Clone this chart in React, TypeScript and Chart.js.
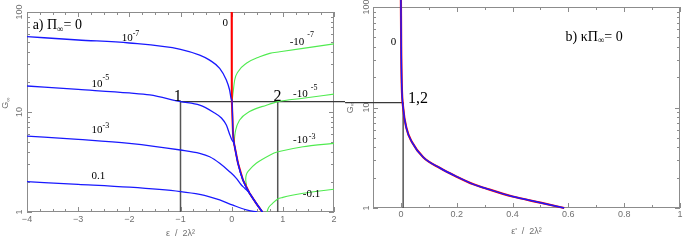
import React, { useEffect, useRef } from 'react';
import { Chart, registerables } from 'chart.js';
Chart.register(...registerables);

// ---------- ticks ----------
const leftXTicks = [-4, -3, -2, -1, 0, 1, 2];
const rightXTicks = [0, 0.2, 0.4, 0.6, 0.8, 1];
const yTicks = [1, 10, 100];

// ---------- left panel (a) ----------
const blue7X = [-4, -3, -2, -1, -0.625, -0.43, -0.234, -0.104, -0.04, -0.006];
const blue7Y = [56.7, 52.5, 49.0, 42.4, 37.0, 33.0, 27.3, 20.9, 16.6, 13.4];
const blue5X = [-4, -3, -2, -1.6, -1, -0.625, -0.365, -0.2, -0.104, -0.04, -0.006, 0.02];
const blue5Y = [18.2, 16.8, 15.5, 14.8, 12.7, 11.7, 10.0, 8.7, 7.4, 6.0, 5.4, 5.1];
const blue3X = [-4, -3, -2, -1, -0.625, -0.43, -0.234, -0.04, 0.092, 0.19, 0.26];
const blue3Y = [5.75, 5.33, 4.86, 4.17, 3.86, 3.57, 3.07, 2.53, 2.17, 1.86, 1.72];
const blue01X = [-4, -3, -2, -1, -0.625, -0.43, -0.234, 0.026, 0.287, 0.5];
const blue01Y = [2.01, 1.89, 1.77, 1.6, 1.5, 1.42, 1.32, 1.17, 1.05, 1.0];
const envX = [0.006, 0.026, 0.045, 0.059, 0.124, 0.22, 0.35, 0.48, 0.6];
const envY = [13.0, 6.1, 4.9, 4.5, 3.07, 2.09, 1.54, 1.22, 1.0];
const redX = [0, 0];
const redY = [100, 13.0];
const g7X = [0.008, 0.026, 0.059, 0.124, 0.287, 0.548, 0.743, 0.94, 1.394, 2];
const g7Y = [12.8, 15.4, 20.9, 25.3, 30.7, 35.7, 38.6, 40.0, 43.3, 48.0];
const g5X = [0.05, 0.059, 0.078, 0.156, 0.35, 0.68, 0.905, 1.394, 2];
const g5Y = [4.9, 5.7, 6.6, 8.3, 10.1, 11.7, 12.7, 13.7, 15.1];
const g3X = [0.29, 0.275, 0.285, 0.32, 0.48, 0.743, 0.905, 1.394, 2];
const g3Y = [1.85, 2.1, 2.35, 2.55, 3.07, 3.7, 4.0, 4.5, 4.86];
const g01X = [0.69, 0.72, 0.8, 0.9, 1.0, 1.4, 2];
const g01Y = [1.0, 1.1, 1.22, 1.35, 1.4, 1.54, 1.69];
const leftHX = [-1, 2.3];
const leftHY = [12.7, 12.7];
const leftV1X = [-1, -1];
const leftV2X = [0.9, 0.9];
const leftVY = [1, 12.7];

// ---------- right panel (b) ----------
const rX = [0, 0.001, 0.003, 0.008, 0.02, 0.04, 0.08, 0.14, 0.2, 0.26, 0.3, 0.4, 0.5, 0.585];
const rY = [120, 40, 17, 10, 6.2, 4.5, 3.2, 2.5, 2.05, 1.72, 1.58, 1.3, 1.13, 1.0];
const rightHX = [-0.2, 0.008];
const rightHY = [11.2, 11.2];
const rightVX = [0.008, 0.008];
const rightVY = [1, 11.2];

// ---------- styles ----------
const SERIF = '"Liberation Serif", "DejaVu Serif", serif';
const SANS = '"Liberation Sans", "DejaVu Sans", sans-serif';
const AXIS_COLOR = '#707070';
const FRAME_COLOR = '#8c8c8c';
const BLUE = 'rgb(25,25,255)';
const GREEN = 'rgb(80,235,80)';
const RED = 'rgb(255,0,0)';
const DARK = '#383838';
const GREYLINE = '#555555';
const H = 243;

const pts = (xs: number[], ys: number[]) => xs.map((x, i) => ({ x, y: ys[i] }));
const joinEnv = (xs: number[], ys: number[], from: number) =>
  pts(xs, ys).concat(pts(envX.slice(from), envY.slice(from)));

const ds = (data: any[], color: string, width: number, extra: any = {}) => ({
  data, borderColor: color, borderWidth: width, showLine: true, pointRadius: 0,
  pointHoverRadius: 0, fill: false, tension: 0.2, ...extra,
});
const MONO = { cubicInterpolationMode: 'monotone' };

type Part = { t: string; s: number; dy?: number; gap?: number };
type Label = { x: number; y: number; parts: Part[] };

const sup = (base: string, exp: string, dy: number, gap = 0): Part[] => [
  { t: base, s: 11, gap }, { t: exp, s: 8, dy },
];

const leftLabels: Label[] = [
  { x: -3.89, y: 67, parts: [{ t: 'a) Π', s: 14 }, { t: '∞', s: 9, dy: 2.5 }, { t: '= 0', s: 14 }] },
  { x: -2.15, y: 51.3, parts: sup('10', '-7', -5) },
  { x: -2.74, y: 17.7, parts: sup('10', '-5', -7) },
  { x: -2.74, y: 6.12, parts: sup('10', '-3', -5) },
  { x: -2.74, y: 2.14, parts: [{ t: '0.1', s: 11 }] },
  { x: -0.18, y: 72.4, parts: [{ t: '0', s: 11 }] },
  { x: 1.134, y: 46.8, parts: sup('-10', '-7', -8, 3) },
  { x: 1.2, y: 14.2, parts: sup('-10', '-5', -7, 3) },
  { x: 1.2, y: 4.86, parts: sup('-10', '-3', -4, 1) },
  { x: 1.39, y: 1.42, parts: [{ t: '-0.1', s: 11 }] },
  { x: -1.13, y: 13.0, parts: [{ t: '1', s: 16 }] },
  { x: 0.82, y: 13.0, parts: [{ t: '2', s: 16 }] },
];
const rightLabels: Label[] = [
  { x: -0.036, y: 41.4, parts: [{ t: '0', s: 11 }] },
  { x: 0.025, y: 11.2, parts: [{ t: '1,2', s: 16 }] },
  { x: 0.59, y: 46.4, parts: [{ t: 'b) κΠ', s: 14 }, { t: '∞', s: 9, dy: 2.5 }, { t: '= 0', s: 14 }] },
];

function drawParts(ctx: CanvasRenderingContext2D, x: number, y: number, parts: Part[], family: string) {
  let cx = x;
  for (const p of parts) {
    ctx.font = `${p.s}px ${family}`;
    ctx.fillText(p.t, cx, y + (p.dy || 0));
    cx += ctx.measureText(p.t).width + (p.gap || 0);
  }
}
function partsWidth(ctx: CanvasRenderingContext2D, parts: Part[], family: string) {
  let w = 0;
  for (const p of parts) { ctx.font = `${p.s}px ${family}`; w += ctx.measureText(p.t).width + (p.gap || 0); }
  return w;
}

const decor = {
  id: 'decor',
  beforeDatasetsDraw(chart: any, _a: any, o: any) {
    const { ctx, chartArea: a, scales } = chart;
    const xs = scales.x, ys = scales.y;
    ctx.save();
    ctx.strokeStyle = FRAME_COLOR;
    ctx.lineWidth = 1;
    ctx.strokeRect(a.left + 0.5, a.top + 0.5, a.right - a.left - 1, a.bottom - a.top - 1);
    const seg = (x1: number, y1: number, x2: number, y2: number) => {
      ctx.beginPath(); ctx.moveTo(x1, y1); ctx.lineTo(x2, y2); ctx.stroke();
    };
    const xt = (v: number, len: number) => {
      const p = Math.round(xs.getPixelForValue(v)) + 0.5;
      seg(p, a.bottom, p, a.bottom - len); seg(p, a.top, p, a.top + len);
    };
    const yt = (v: number, len: number) => {
      const p = Math.round(ys.getPixelForValue(v)) + 0.5;
      seg(a.left, p, a.left + len, p); seg(a.right, p, a.right - len, p);
    };
    o.xTicks.forEach((v: number) => xt(v, 5));
    const xmin = xs.min, xmax = xs.max;
    for (let k = 0; ; k++) {
      const v = xmin + k * o.xMinorStep;
      if (v > xmax + 1e-9) break;
      xt(v, 3);
    }
    yTicks.forEach((v) => yt(v, 5));
    for (const d of [1, 10]) for (let m = 2; m <= 9; m++) yt(d * m, 3);

    // rotated y tick labels
    ctx.fillStyle = AXIS_COLOR;
    ctx.font = `9px ${SANS}`;
    ctx.textAlign = 'center';
    ctx.textBaseline = 'middle';
    for (const v of yTicks) {
      ctx.save();
      ctx.translate(a.left - o.yLabelDx, ys.getPixelForValue(v));
      ctx.rotate(-Math.PI / 2);
      ctx.fillText(String(v), 0, 0);
      ctx.restore();
    }
    // y title
    const tparts: Part[] = [{ t: 'G', s: 9 }, { t: '∞', s: 6, dy: 2 }];
    ctx.save();
    ctx.translate(o.titleX, ys.getPixelForValue(o.titleY));
    ctx.rotate(-Math.PI / 2);
    ctx.textAlign = 'left';
    ctx.textBaseline = 'middle';
    const w = partsWidth(ctx, tparts, SANS);
    drawParts(ctx, -w / 2, 0, tparts, SANS);
    ctx.restore();
    ctx.restore();
  },
  afterDatasetsDraw(chart: any, _a: any, o: any) {
    const { ctx, scales } = chart;
    ctx.save();
    ctx.fillStyle = '#000';
    ctx.textAlign = 'left';
    ctx.textBaseline = 'alphabetic';
    for (const l of o.labels as Label[]) {
      drawParts(ctx, scales.x.getPixelForValue(l.x), scales.y.getPixelForValue(l.y), l.parts, SERIF);
    }
    ctx.restore();
  },
};

function makeConfig(p: {
  datasets: any[]; xmin: number; xmax: number; xTicks: number[]; fmt: (v: number) => string;
  padRight: number; padTop: number; yWidth: number; xHeight: number; tickPad: number;
  title: string; titlePadBottom: number; labels: Label[]; xMinorStep: number;
  yLabelDx: number; titleX: number; titleY: number;
}): any {
  return {
    type: 'scatter',
    data: { datasets: p.datasets },
    plugins: [decor],
    options: {
      responsive: false,
      animation: false,
      events: [],
      layout: { autoPadding: false, padding: { left: 0, right: p.padRight, top: p.padTop, bottom: 0 } },
      plugins: {
        legend: { display: false },
        tooltip: { enabled: false },
        decor: { xTicks: p.xTicks, xMinorStep: p.xMinorStep, labels: p.labels, yLabelDx: p.yLabelDx, titleX: p.titleX, titleY: p.titleY },
      },
      scales: {
        x: {
          type: 'linear', min: p.xmin, max: p.xmax,
          grid: { display: false, drawTicks: false }, border: { display: false },
          afterBuildTicks: (s: any) => { s.ticks = p.xTicks.map((v) => ({ value: v })); },
          afterFit: (s: any) => { s.height = p.xHeight; },
          ticks: { callback: (v: any) => p.fmt(Number(v)), color: AXIS_COLOR, font: { family: SANS, size: 9 }, padding: p.tickPad, maxRotation: 0, autoSkip: false },
          title: { display: true, text: p.title, color: AXIS_COLOR, font: { family: SANS, size: 9 }, padding: { top: 0, bottom: p.titlePadBottom } },
        },
        y: {
          type: 'logarithmic', min: 1, max: 100,
          grid: { display: false, drawTicks: false }, border: { display: false },
          ticks: { display: false },
          afterFit: (s: any) => { s.width = p.yWidth; },
        },
      },
    },
  };
}

const leftConfig = () => makeConfig({
  datasets: [
    ds(joinEnv(blue7X, blue7Y, 0), BLUE, 1.3, MONO),
    ds(joinEnv(blue5X, blue5Y, 2), BLUE, 1.3, MONO),
    ds(joinEnv(blue3X, blue3Y, 6), BLUE, 1.3, MONO),
    ds(pts(blue01X, blue01Y), BLUE, 1.3, MONO),
    ds(pts(redX, redY).concat(pts(envX, envY)), RED, 2, { tension: 0 }),
    ds(pts(g7X, g7Y), GREEN, 1.1, MONO),
    ds(pts(g5X, g5Y), GREEN, 1.1, MONO),
    ds(pts(g3X, g3Y), GREEN, 1.1),
    ds(pts(g01X, g01Y), GREEN, 1.1, MONO),
    ds(pts(leftHX, leftHY), DARK, 1.2, { clip: false, tension: 0 }),
    ds(pts(leftV1X, leftVY), GREYLINE, 1.5, { tension: 0 }),
    ds(pts(leftV2X, leftVY), GREYLINE, 1.5, { tension: 0 }),
  ],
  xmin: -4, xmax: 2, xTicks: leftXTicks,
  fmt: (v) => (v < 0 ? '−' + Math.abs(v) : String(v)),
  padRight: 11, padTop: 12, yWidth: 27, xHeight: 31, tickPad: 2,
  title: 'ε  /  2λ²', titlePadBottom: 4, labels: leftLabels, xMinorStep: 0.25,
  yLabelDx: 7, titleX: 6, titleY: 12.3,
});

const rightConfig = () => makeConfig({
  datasets: [
    ds(pts(rX, rY), BLUE, 1.5, { clip: false, ...MONO }),
    ds(pts(rX, rY), RED, 2.2, { clip: false, ...MONO }),
    ds(pts(rightHX, rightHY), DARK, 1.2, { clip: false, tension: 0 }),
    ds(pts(rightVX, rightVY), GREYLINE, 1.5, { tension: 0 }),
  ],
  xmin: -0.1, xmax: 1, xTicks: rightXTicks,
  fmt: (v) => String(Math.round(v * 10) / 10),
  padRight: 4, padTop: 7, yWidth: 28, xHeight: 35, tickPad: 1,
  title: "ε'  /  2λ²", titlePadBottom: 6, labels: rightLabels, xMinorStep: 0.1,
  yLabelDx: 6, titleX: 5.5, titleY: 10,
});

function Panel({ config, left, width }: { config: () => any; left: number; width: number }) {
  const ref = useRef<HTMLCanvasElement>(null);
  useEffect(() => {
    const chart = new Chart(ref.current as HTMLCanvasElement, config());
    return () => chart.destroy();
  }, []);
  return (
    <canvas ref={ref} width={width} height={H}
      style={{ position: 'absolute', left, top: 0, width, height: H, display: 'block' }} />
  );
}

export default function App() {
  return (
    <div style={{ position: 'fixed', left: 0, top: 0, width: 684, height: H, background: '#fff', overflow: 'hidden' }}>
      <Panel config={leftConfig} left={0} width={345} />
      <Panel config={rightConfig} left={345} width={339} />
    </div>
  );
}
